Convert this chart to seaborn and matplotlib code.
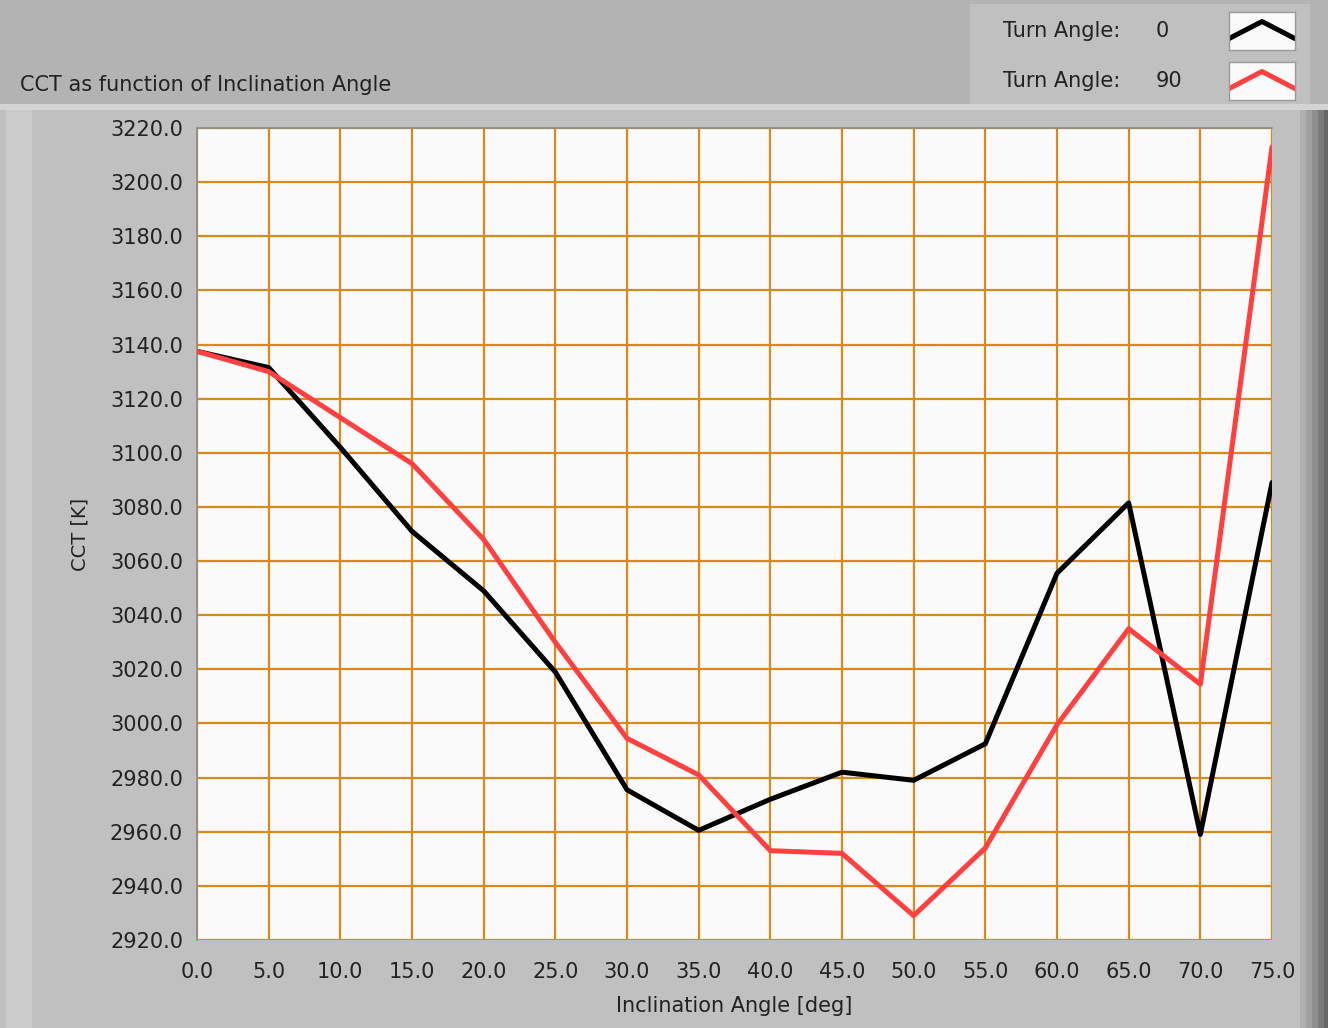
import matplotlib
matplotlib.use("Agg")
import matplotlib.pyplot as plt
from matplotlib.patches import Rectangle
import numpy as np
import pandas as pd
import seaborn as sns

# Data
inclination = [0, 5, 10, 15, 20, 25, 30, 35, 40, 45, 50, 55, 60, 65, 70, 75]
cct_turn0 = [3137.5, 3131.5, 3102, 3071, 3049, 3019, 2975.5, 2960.5,
             2972, 2982, 2979, 2992.5, 3055.5, 3081.5, 2959, 3089]
cct_turn90 = [3137.5, 3130, 3113, 3096, 3068, 3030, 2994.5, 2981,
              2953, 2952, 2929, 2954, 2999.5, 3035, 3014.5, 3213]
turn_labels = ["0", "90"]
line_colors = ["#000000", "#ff4040"]

x_ticks = np.arange(0, 76, 5)
y_ticks = np.arange(2920, 3221, 20)

df = pd.DataFrame({
    "Inclination": inclination * 2,
    "CCT": cct_turn0 + cct_turn90,
    "Turn": [turn_labels[0]] * len(inclination) + [turn_labels[1]] * len(inclination),
})

sns.set_style("white")
plt.rcParams["font.family"] = ["DejaVu Sans"]

W, H = 1328, 1028
fig = plt.figure(figsize=(W / 100, H / 100), dpi=100)
fig.patch.set_facecolor("#c0c0c0")


def px_rect(x0, y0, x1, y1, color):
    # background panels sit behind every axes
    fig.patches.append(Rectangle((x0 / W, 1 - y1 / H), (x1 - x0) / W, (y1 - y0) / H,
                                 transform=fig.transFigure, facecolor=color,
                                 edgecolor="none", zorder=-5))


# LabVIEW-like panel backgrounds
px_rect(0, 0, W, 106, "#b3b3b3")
px_rect(970, 4, 1310, 104, "#c0c0c0")
px_rect(0, 104, W, 110, "#d4d4d4")
px_rect(6, 110, 32, H, "#cbcbcb")
for i, c in enumerate(["#b0b0b0", "#a0a0a0", "#8e8e8e", "#7a7a7a", "#666666"]):
    px_rect(1300 + i * 6, 110, 1306 + i * 6, H, c)

ax = fig.add_axes([197 / W, 1 - 940 / H, (1272 - 197) / W, (940 - 128) / H])
ax.set_facecolor("#fafafa")

sns.lineplot(data=df, x="Inclination", y="CCT", hue="Turn", palette=line_colors,
             linewidth=3.6, legend=False, ax=ax, zorder=5)

ax.set_xlim(0, 75)
ax.set_ylim(2920, 3220)
ax.set_xticks(x_ticks)
ax.set_yticks(y_ticks)
ax.set_xticklabels([f"{v:.1f}" for v in x_ticks])
ax.set_yticklabels([f"{v:.1f}" for v in y_ticks])
ax.grid(True, color="#d98a1c", linewidth=1.6)
ax.set_axisbelow(True)
ax.tick_params(axis="both", which="both", labelsize=15, colors="#222222",
               length=7, width=1.2, direction="out", pad=3)
ax.tick_params(axis="x", pad=9)
for name, sp in ax.spines.items():
    sp.set_visible(name in ("left", "top"))
    sp.set_color("#8c8c8c")
    sp.set_linewidth(1.2)

ax.set_xlabel("Inclination Angle [deg]", fontsize=15, color="#222222", labelpad=10)
ax.set_ylabel("CCT [K]", fontsize=14, color="#222222")
ax.yaxis.set_label_coords(-0.1, 0.5)

fig.text(20 / W, 1 - 85 / H, "CCT as function of Inclination Angle",
         fontsize=15, color="#222222", va="center", ha="left")

# Legend: text rows and chevron swatches
for i, (lab, col) in enumerate(zip(turn_labels, line_colors)):
    yc = 31 + i * 50
    fig.text(1003 / W, 1 - yc / H, "Turn Angle:", fontsize=15, color="#222222",
             va="center", ha="left")
    fig.text(1156 / W, 1 - yc / H, lab, fontsize=15, color="#222222",
             va="center", ha="left")
    sw = fig.add_axes([1229 / W, 1 - (yc + 19) / H, 66 / W, 38 / H])
    sw.set_facecolor("#fafafa")
    sw.plot([0, 1, 2], [0.3, 0.75, 0.3], color=col, linewidth=3.6)
    sw.set_xlim(0, 2)
    sw.set_ylim(0, 1)
    sw.set_xticks([])
    sw.set_yticks([])
    for sp in sw.spines.values():
        sp.set_color("#9a9a9a")
        sp.set_linewidth(1)

fig.savefig("out.png", dpi=100)
